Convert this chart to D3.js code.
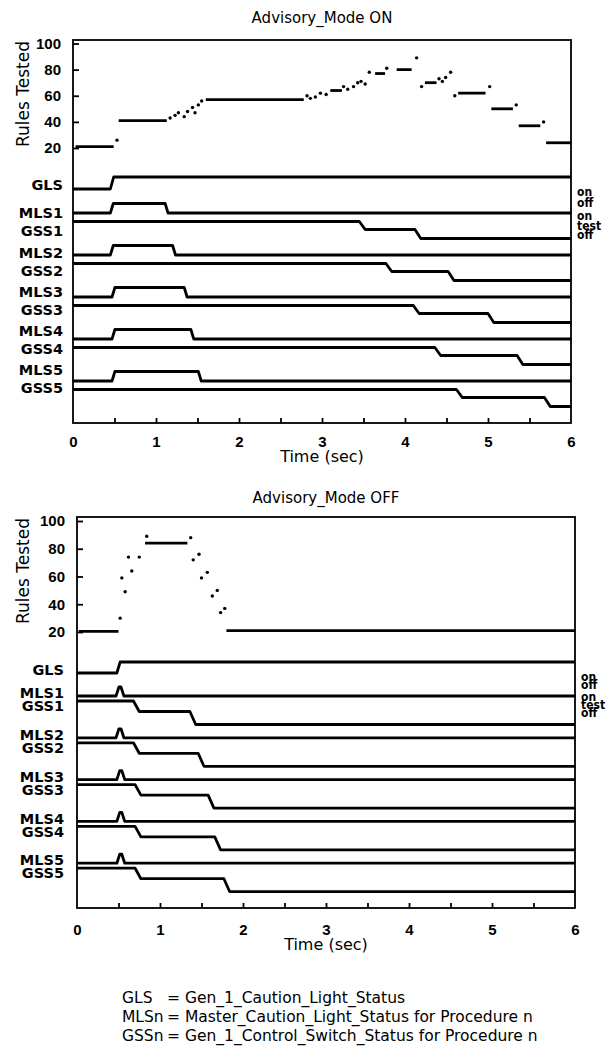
<!DOCTYPE html>
<html>
<head>
<meta charset="utf-8">
<script src="https://cdn.jsdelivr.net/npm/d3@7/dist/d3.min.js"></script>
<style>
  body { margin: 0; background: #fff; }
  svg { display: block; font-family: "DejaVu Sans", "Liberation Sans", Arial, sans-serif; }
</style>
</head>
<body>
<svg id="chart" width="610" height="1053"></svg>
<script>
// axis ticks and labels
const timeTicks = [0, 1, 2, 3, 4, 5, 6];
const halfTicks = [0.5, 1, 1.5, 2, 2.5, 3, 3.5, 4, 4.5, 5, 5.5];
const rulesTicks = [20, 40, 60, 80, 100];
const stateLabels = ["on", "off", "on", "test", "off"];
const legendAbbr = ["GLS", "MLSn", "GSSn"];
const legendText = [
  "= Gen_1_Caution_Light_Status",
  "= Master_Caution_Light_Status for Procedure n",
  "= Gen_1_Control_Switch_Status for Procedure n"
];

// Advisory_Mode ON : rules tested, flat runs [t0, t1, value] and single dots [t, value]
const onRuns = [
  [0.03, 0.49, 21], [0.55, 1.13, 41], [1.6, 2.78, 57], [3.1, 3.24, 64],
  [3.64, 3.76, 77], [3.9, 4.08, 80], [4.24, 4.38, 70], [4.64, 4.97, 62],
  [5.04, 5.3, 50], [5.37, 5.63, 37], [5.7, 6.0, 24]
];
const onDots = [
  [0.53, 26], [1.17, 43], [1.23, 45], [1.27, 47], [1.34, 44], [1.38, 48],
  [1.44, 51], [1.47, 47], [1.51, 53], [1.55, 56], [2.82, 60], [2.86, 58],
  [2.92, 59], [2.98, 62], [3.05, 61], [3.26, 67], [3.31, 65], [3.38, 67],
  [3.43, 70], [3.47, 71], [3.52, 69], [3.57, 78], [3.78, 81], [4.14, 89],
  [4.2, 67], [4.41, 73], [4.45, 71], [4.49, 74], [4.55, 78], [4.6, 60],
  [5.02, 67], [5.34, 53], [5.67, 40]
];
// state changes [t, level]; MLS/GLS: 0 off, 1 on; GSS: 0 off, 1 test, 2 on
const onGLS = [[0, 0], [0.45, 1]];
const onMLS = [
  [[0, 0], [0.45, 1], [1.11, 0]],
  [[0, 0], [0.45, 1], [1.2, 0]],
  [[0, 0], [0.47, 1], [1.34, 0]],
  [[0, 0], [0.47, 1], [1.42, 0]],
  [[0, 0], [0.47, 1], [1.51, 0]]
];
const onGSS = [
  [[0, 2], [3.45, 1], [4.12, 0]],
  [[0, 2], [3.77, 1], [4.52, 0]],
  [[0, 2], [4.1, 1], [5.0, 0]],
  [[0, 2], [4.36, 1], [5.35, 0]],
  [[0, 2], [4.62, 1], [5.68, 0]]
];

// Advisory_Mode OFF
const offRuns = [[0.02, 0.5, 20.5], [0.82, 1.33, 84], [1.8, 6.0, 21]];
const offDots = [
  [0.52, 30], [0.54, 59], [0.58, 49], [0.62, 74], [0.66, 64], [0.75, 74],
  [0.84, 89], [1.37, 88], [1.4, 72], [1.47, 76], [1.5, 59], [1.57, 63],
  [1.63, 46], [1.69, 50], [1.73, 34], [1.78, 37]
];
const offGLS = [[0, 0], [0.48, 1]];
const offMLS = [
  [[0, 0], [0.47, 1], [0.53, 0]],
  [[0, 0], [0.47, 1], [0.53, 0]],
  [[0, 0], [0.48, 1], [0.54, 0]],
  [[0, 0], [0.48, 1], [0.54, 0]],
  [[0, 0], [0.48, 1], [0.54, 0]]
];
const offGSS = [
  [[0, 2], [0.68, 1], [1.36, 0]],
  [[0, 2], [0.68, 1], [1.46, 0]],
  [[0, 2], [0.7, 1], [1.58, 0]],
  [[0, 2], [0.7, 1], [1.66, 0]],
  [[0, 2], [0.7, 1], [1.77, 0]]
];

const svg = d3.select("#chart");

// turn a change list into points with short sloped edges
function stepPoints(changes, ramp) {
  const pts = [[changes[0][0], changes[0][1]]];
  for (let i = 1; i < changes.length; i++) {
    pts.push([changes[i][0], changes[i - 1][1]]);
    pts.push([changes[i][0] + ramp, changes[i][1]]);
  }
  pts.push([6, changes[changes.length - 1][1]]);
  return pts;
}

function drawPanel(c) {
  const g = svg.append("g");
  const midX = (c.left + c.right) / 2;

  const x = d3.scaleLinear().domain([0, 6]).range([c.left, c.right]);
  const y = d3.scaleLinear().domain([20, 100]).range([c.y20, c.y100]);
  const glsY = d3.scaleLinear().domain([0, 1]).range([c.glsOff, c.glsOn]);
  const rowY = d3.scaleLinear().domain([0, 4]).range([c.mlsOff, c.mlsOff + 4 * c.rowStep]);
  const mlsY = d3.scaleLinear().domain([0, 1]).range([0, -c.mlsH]);
  const gssY = d3.scaleLinear().domain([0, 1, 2]).range(c.gssLv);
  const labY = d3.scaleLinear().domain([0, 4]).range([c.mlsLab, c.mlsLab + 4 * c.labStep]);

  g.append("text")
    .attr("x", midX).attr("y", c.titleY)
    .attr("text-anchor", "middle")
    .style("font-size", "15px")
    .text(c.title);

  g.append("rect")
    .attr("x", c.left).attr("y", c.top)
    .attr("width", c.right - c.left).attr("height", c.bottom - c.top)
    .attr("fill", "none").attr("stroke", "#000").attr("stroke-width", 1.8);

  // y axis, ticks point inward
  const yAxis = g.append("g")
    .attr("transform", `translate(${c.left},0)`)
    .call(d3.axisLeft(y).tickValues(rulesTicks).tickSize(-6).tickPadding(12));
  yAxis.select(".domain").remove();
  yAxis.selectAll("line").attr("stroke-width", 1.8);
  yAxis.selectAll("text")
    .attr("font-family", null).attr("fill", "#000")
    .style("font-size", "15px").style("font-weight", "bold");

  g.append("text")
    .attr("transform", `translate(29,${c.top + 54}) rotate(-90)`)
    .attr("text-anchor", "middle")
    .style("font-size", "17px")
    .text("Rules Tested");

  // x axis: half second ticks pointing up, integer labels
  const xTicks = g.append("g")
    .attr("transform", `translate(0,${c.bottom})`)
    .call(d3.axisBottom(x).tickValues(halfTicks).tickSize(-5).tickFormat(""));
  xTicks.select(".domain").remove();
  xTicks.selectAll("line").attr("stroke-width", 1.8);

  const xAxis = g.append("g")
    .attr("transform", `translate(0,${c.bottom})`)
    .call(d3.axisBottom(x).tickValues(timeTicks).tickSize(0).tickPadding(c.labPad).tickFormat(d3.format("d")));
  xAxis.select(".domain").remove();
  xAxis.selectAll("text")
    .attr("font-family", null).attr("fill", "#000")
    .style("font-size", "15px").style("font-weight", "bold");

  g.append("text")
    .attr("x", midX).attr("y", c.bottom + c.timeOff)
    .attr("text-anchor", "middle")
    .style("font-size", "16px")
    .text("Time (sec)");

  // rules tested
  g.selectAll(".run").data(c.runs).enter().append("line")
    .attr("class", "run")
    .attr("x1", (d) => x(d[0])).attr("x2", (d) => x(d[1]))
    .attr("y1", (d) => y(d[2])).attr("y2", (d) => y(d[2]))
    .attr("stroke", "#000").attr("stroke-width", 2.8);
  g.selectAll(".dot").data(c.dots).enter().append("circle")
    .attr("class", "dot")
    .attr("cx", (d) => x(d[0])).attr("cy", (d) => y(d[1]))
    .attr("r", 1.7).attr("fill", "#000");

  // state traces and their labels
  const rows = [{ label: "GLS", pts: stepPoints(c.gls, 0.04), yFn: glsY, ly: c.glsLab }];
  c.mls.forEach((m, i) => {
    const base = rowY(i);
    rows.push({ label: "MLS" + (i + 1), pts: stepPoints(m, 0.035), yFn: (v) => base + mlsY(v), ly: labY(i) });
    rows.push({ label: "GSS" + (i + 1), pts: stepPoints(c.gss[i], 0.07), yFn: (v) => base + gssY(v), ly: labY(i) + c.gssLab });
  });
  rows.forEach((r) => {
    g.append("path")
      .attr("d", d3.line().x((d) => x(d[0])).y((d) => r.yFn(d[1]))(r.pts))
      .attr("fill", "none").attr("stroke", "#000")
      .attr("stroke-width", 2.8).attr("stroke-linejoin", "round");
    g.append("text")
      .attr("x", c.left - c.labGap).attr("y", r.ly)
      .attr("dy", "0.36em")
      .attr("text-anchor", "end")
      .style("font-size", "14.5px").style("font-weight", "bold")
      .text(r.label);
  });

  // on / off / test keys at the right
  g.selectAll(".state").data(stateLabels).enter().append("text")
    .attr("class", "state")
    .attr("x", c.right + 6)
    .attr("y", (d, i) => c.stateY[i])
    .style("font-family", "'Liberation Sans Narrow', 'DejaVu Sans Condensed', sans-serif")
    .style("font-size", "12px").style("font-weight", "bold")
    .text((d) => d);
}

drawPanel({
  title: "Advisory_Mode ON", titleY: 23,
  top: 40, bottom: 423, left: 73, right: 571,
  y20: 148, y100: 43.5,
  glsOn: 177, glsOff: 189, mlsOff: 213, rowStep: 42, mlsH: 9.5, gssLv: [25.5, 16.5, 8.5],
  glsLab: 185, mlsLab: 213, labStep: 39.3, gssLab: 18, labGap: 10,
  labPad: 13, timeOff: 39,
  stateY: [196, 207, 220, 230, 239],
  runs: onRuns, dots: onDots, gls: onGLS, mls: onMLS, gss: onGSS
});
drawPanel({
  title: "Advisory_Mode OFF", titleY: 503,
  top: 517, bottom: 908, left: 77, right: 575,
  y20: 632, y100: 521,
  glsOn: 662, glsOff: 673, mlsOff: 696, rowStep: 41.8, mlsH: 9, gssLv: [28.5, 15.5, 5],
  glsLab: 670, mlsLab: 693, labStep: 41.8, gssLab: 13, labGap: 13,
  labPad: 16, timeOff: 42,
  stateY: [681, 689, 701, 709, 717],
  runs: offRuns, dots: offDots, gls: offGLS, mls: offMLS, gss: offGSS
});

// abbreviation key
const leg = svg.append("g").style("font-size", "15.5px");
leg.selectAll(".abbr").data(legendAbbr).enter().append("text")
  .attr("class", "abbr").attr("x", 122).attr("y", (d, i) => 1003 + i * 19)
  .text((d) => d);
leg.selectAll(".desc").data(legendText).enter().append("text")
  .attr("class", "desc").attr("x", 167).attr("y", (d, i) => 1003 + i * 19)
  .text((d) => d);
</script>
</body>
</html>
